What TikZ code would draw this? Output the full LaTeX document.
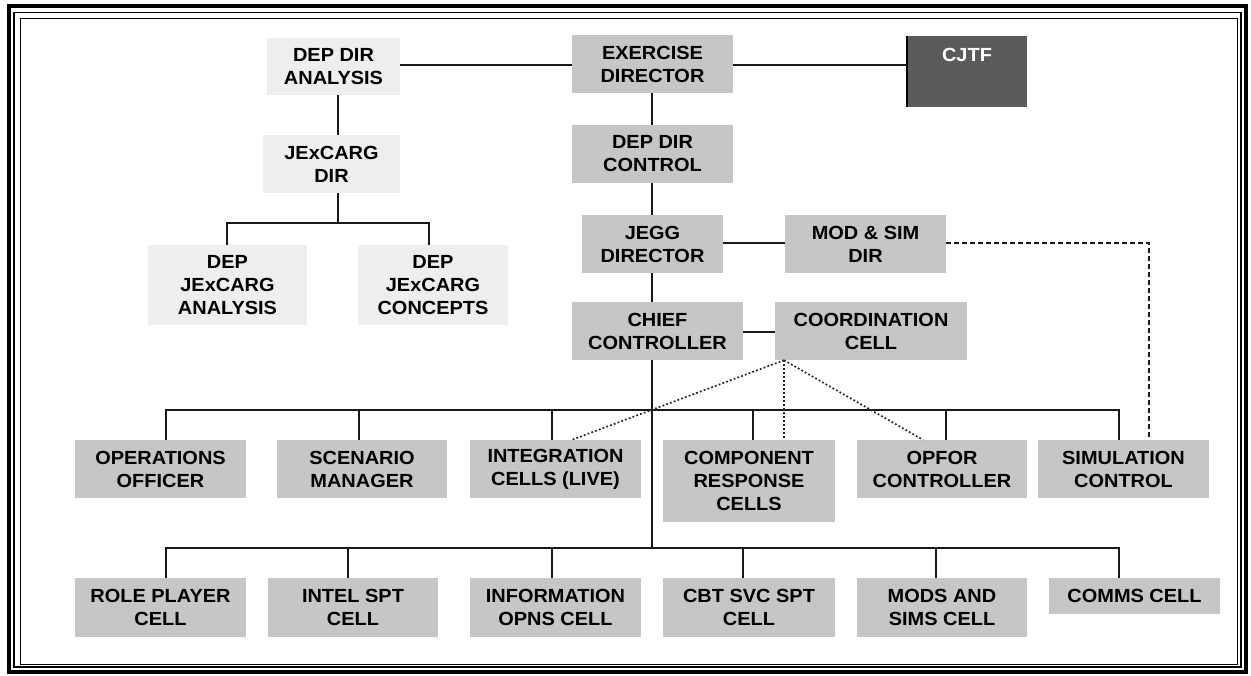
\documentclass[tikz,border=0pt]{standalone}
\usepackage{fontspec}
\setmainfont{Liberation Sans}[FakeStretch=1.05]
\begin{document}
\begin{tikzpicture}[x=1pt,y=-1pt,
  box/.style={rectangle, fill=boxgray, inner sep=0pt, align=center,
    font=\fontsize{19}{23}\selectfont\bfseries, text=black},
  lbox/.style={box, fill=lightgray2},
  conn/.style={line width=1.3pt, draw=black!90},
  bus/.style={line width=2pt, draw=black!90},
  dropl/.style={line width=1.8pt, draw=black!90},
  dotl/.style={line width=1.7pt, draw=black!85, dash pattern=on 1.8pt off 2.2pt},
  dashl/.style={line width=1.2pt, draw=black!90, dash pattern=on 5pt off 3pt}]
\definecolor{boxgray}{HTML}{C6C6C6}
\definecolor{lightgray2}{HTML}{EEEEEE}
\definecolor{cjtfgray}{HTML}{5A5A5A}
\useasboundingbox (0,0) rectangle (1251,676);
\fill[white] (0,0) rectangle (1251,676);
% frame
\draw[line width=3.5pt] (9,6) rectangle (1246,672);
\draw[line width=1.8pt] (14,12.5) rectangle (1241,667);
\draw[line width=1pt] (20,19) rectangle (1237,664);
% top
\node[lbox, minimum width=133, minimum height=57] (dda) at (333.5,66.5) {DEP DIR\\ANALYSIS};
\node[box, minimum width=161, minimum height=58] (ex) at (652.5,64) {EXERCISE\\DIRECTOR};
\node[box, fill=cjtfgray, minimum width=120, minimum height=71] (cjtf) at (967,71.5) {};
\node[font=\fontsize{19}{23}\selectfont\bfseries, text=white] (cjtft) at (967,55) {CJTF};
\draw[line width=1.5pt] (cjtf.north west) -- (cjtf.south west);
\node[lbox, minimum width=137, minimum height=58] (jxd) at (331.5,164) {JExCARG\\DIR};
\node[lbox, minimum width=159, minimum height=80] (dja) at (227.5,285) {DEP\\JExCARG\\ANALYSIS};
\node[lbox, minimum width=150, minimum height=80] (djc) at (433,285) {DEP\\JExCARG\\CONCEPTS};
\node[box, minimum width=161, minimum height=58] (ddc) at (652.5,154) {DEP DIR\\CONTROL};
\node[box, minimum width=141, minimum height=58] (jegg) at (652.5,244) {JEGG\\DIRECTOR};
\node[box, minimum width=161, minimum height=58] (mod) at (865.5,244) {MOD \& SIM\\DIR};
\node[box, minimum width=171, minimum height=58] (chief) at (657.5,331) {CHIEF\\CONTROLLER};
\node[box, minimum width=192, minimum height=58] (coord) at (871,331) {COORDINATION\\CELL};
% row 1
\node[box, minimum width=171, minimum height=58] (ops) at (160.5,469) {OPERATIONS\\OFFICER};
\node[box, minimum width=170, minimum height=58] (scen) at (362,469) {SCENARIO\\MANAGER};
\node[box, minimum width=171, minimum height=58] (integ) at (555.5,469) {INTEGRATION\\CELLS (LIVE)};
\node[box, minimum width=172, minimum height=82] (comp) at (749,481) {COMPONENT\\RESPONSE\\CELLS};
\node[box, minimum width=170, minimum height=58] (opfor) at (942,469) {OPFOR\\CONTROLLER};
\node[box, minimum width=171, minimum height=58] (sim) at (1123.5,469) {SIMULATION\\CONTROL};
% row 2
\node[box, minimum width=171, minimum height=59] (role) at (160.5,607.5) {ROLE PLAYER\\CELL};
\node[box, minimum width=170, minimum height=59] (intel) at (353,607.5) {INTEL SPT\\CELL};
\node[box, minimum width=171, minimum height=59] (info) at (555.5,607.5) {INFORMATION\\OPNS CELL};
\node[box, minimum width=172, minimum height=59] (cbt) at (749,607.5) {CBT SVC SPT\\CELL};
\node[box, minimum width=170, minimum height=59] (mods) at (942,607.5) {MODS AND\\SIMS CELL};
\node[box, minimum width=171, minimum height=36] (comms) at (1134.5,596) {COMMS CELL};
% coordinates
\coordinate (lt) at (338,223);
\coordinate (b1) at (652,410);
\coordinate (b2) at (652,548);
% top connectors
\draw[conn] (dda.east |- 0,65) -- (ex.west |- 0,65);
\draw[conn] (ex.east |- 0,65) -- (cjtf.west |- 0,65);
\draw[conn] ([xshift=4.5]dda.south) -- ([xshift=6.5]jxd.north);
\draw[conn] ([xshift=6.5]jxd.south) -- (lt);
\draw[bus] ([xshift=-0.5]dja.north) |- (lt);
\draw[bus] ([xshift=-4]djc.north) |- (lt);
\draw[dropl] ([xshift=-0.5]ex.south) -- ([xshift=-0.5]ddc.north);
\draw[dropl] ([xshift=-0.5]ddc.south) -- ([xshift=-0.5]jegg.north);
\draw[dropl] ([xshift=-0.5]jegg.south) -- ([xshift=-5.5]chief.north);
\draw[conn] (jegg.east |- 0,243) -- (mod.west |- 0,243);
\draw[conn] (chief.east |- 0,332) -- (coord.west |- 0,332);
\draw[conn] ([xshift=-5.5]chief.south) -- (b2);
% bus 1
\draw[dropl] ([xshift=5.5]ops.north) |- (b1);
\draw[dropl] ([xshift=-3]scen.north) |- (b1);
\draw[dropl] ([xshift=-3.5]integ.north) |- (b1);
\draw[dropl] ([xshift=4]comp.north) |- (b1);
\draw[dropl] ([xshift=4]opfor.north) |- (b1);
\draw[dropl] ([xshift=-4.5]sim.north) |- (b1);
\draw[bus] ([xshift=5.5]ops.north |- b1) -- ([xshift=-4.5]sim.north |- b1);
% bus 2
\draw[dropl] ([xshift=5.5]role.north) |- (b2);
\draw[dropl] ([xshift=-5]intel.north) |- (b2);
\draw[dropl] ([xshift=-3.5]info.north) |- (b2);
\draw[dropl] ([xshift=-6]cbt.north) |- (b2);
\draw[dropl] ([xshift=-6]mods.north) |- (b2);
\draw[dropl] ([xshift=-15.5]comms.north) |- (b2);
\draw[bus] ([xshift=5.5]role.north |- b2) -- ([xshift=-15.5]comms.north |- b2);
% dotted coordination links
\draw[dotl] ([xshift=-87]coord.south) -- ([xshift=16.5]integ.north);
\draw[dotl] ([xshift=-87]coord.south) -- ([xshift=35]comp.north);
\draw[dotl] ([xshift=-87]coord.south) -- ([xshift=-19]opfor.north);
% dashed mod & sim link
\draw[dashl] (mod.east |- 0,243) -| ([xshift=25.5]sim.north);
\end{tikzpicture}
\end{document}
